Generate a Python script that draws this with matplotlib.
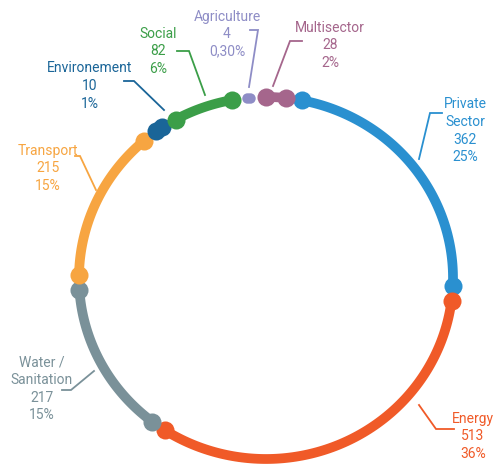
import numpy as np
import matplotlib.pyplot as plt

plt.rcParams['font.family'] = ['Roboto', 'DejaVu Sans']

# Amounts by sector, clockwise from the top
sectors = ['Private\nSector', 'Energy', 'Water /\nSanitation', 'Transport',
           'Environement', 'Social', 'Agriculture', 'Multisector']
amounts = [362, 513, 217, 215, 10, 82, 4, 28]
shares = ['25%', '36%', '15%', '15%', '1%', '6%', '0,30%', '2%']
colors = ['#2a90d0', '#f05a28', '#7a9199', '#f7a541',
          '#1a6598', '#3b9e48', '#8e8dc6', '#a5668c']

# label centre (x, y of first line) and leader polyline, in pixels
label_xy = [(465, 105), (473, 419), (42, 363), (48, 151),
            (90, 69), (158, 34), (227, 17), (330, 28)]
leaders = [
    [(419, 159), (430, 113), (442, 113)],
    [(419, 405), (436, 429), (454, 429)],
    [(94, 371), (71, 390), (62, 390)],
    [(75, 156), (80, 156), (96, 190)],
    [(124, 81), (134, 81), (164, 110)],
    [(177, 51), (189, 51), (205, 95)],
    [(250, 30), (258, 30), (249, 87)],
    [(302, 41), (290, 41), (273, 86)],
]

W, H = 495, 466
cx, cy, rx, ry = 266, 278, 187, 181
deg_per_unit = 0.225
gap = (360 - deg_per_unit * sum(amounts)) / len(amounts)
start = 11.0

fig = plt.figure(figsize=(W / 100, H / 100), dpi=100)
ax = fig.add_axes([0, 0, 1, 1])
ax.set_xlim(0, W)
ax.set_ylim(H, 0)
ax.axis('off')

def ring_xy(theta_deg):
    t = np.radians(theta_deg)
    return cx + rx * np.sin(t), cy - ry * np.cos(t)

a0 = start
for name, val, pct, col, (lx, ly), lead in zip(sectors, amounts, shares, colors,
                                                 label_xy, leaders):
    a1 = a0 + deg_per_unit * val
    th = np.linspace(a0, a1, 120)
    xs, ys = ring_xy(th)
    lw, ms = (7.0, 13.0) if val >= 10 else (4.5, 7.5)
    ax.plot(xs, ys, color=col, lw=lw, solid_capstyle='round', zorder=2)
    ax.plot([xs[0], xs[-1]], [ys[0], ys[-1]], 'o', color=col, ms=ms,
            mec='none', zorder=3)
    a0 = a1 + gap

    px, py = zip(*lead)
    ax.plot(px, py, color=col, lw=1.3, solid_joinstyle='miter', zorder=1)
    txt = f'{name}\n{val}\n{pct}'
    ax.text(lx, ly - 7.5, txt, color=col, fontsize=10, ha='center', va='top',
            linespacing=1.33)

fig.savefig('out.png', dpi=100)
